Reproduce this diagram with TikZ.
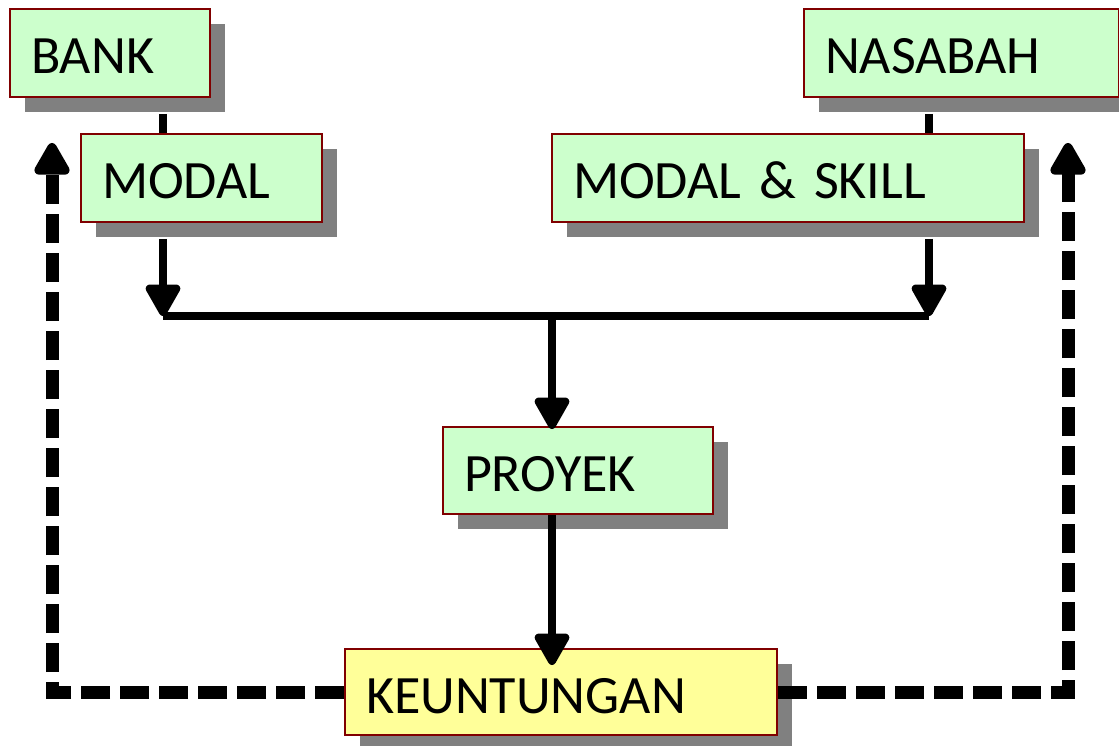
\documentclass[tikz,border=0pt]{standalone}
\usepackage{fontspec}
\setmainfont{Carlito}
\usetikzlibrary{arrows.meta,shadows,calc}
\definecolor{boxgreen}{HTML}{CCFFCC}
\definecolor{boxyellow}{HTML}{FFFF99}
\definecolor{boxborder}{HTML}{800000}
\definecolor{shadowgray}{HTML}{808080}
\begin{document}
\begin{tikzpicture}[x=1pt,y=-1pt,
  box/.style={draw=boxborder, line width=2pt, fill=boxgreen, anchor=north west,
    inner xsep=21pt, inner ysep=0pt, align=left, text height=42pt, text depth=0pt,
    font=\fontsize{54pt}{60pt}\selectfont,
    drop shadow={shadow xshift=15pt, shadow yshift=-15pt, fill=shadowgray, opacity=1, draw=none}},
  ybox/.style={box, fill=boxyellow},
  conn/.style={line width=8pt, black},
  arr/.style={conn, -{Triangle[width=38pt,length=36pt,round]}},
  darr/.style={line width=13pt, black, dash pattern=on 29pt off 10pt,
    -{Triangle[width=39pt,length=37pt,round]}}]
\useasboundingbox (0,0) rectangle (1119,746);
\node[box, text width=158pt, minimum height=88pt] (bank) at (9,8) {BANK};
\node[box, text width=199pt, minimum height=88pt] (modal) at (80,133) {MODAL};
\node[box, text width=273pt, minimum height=88pt] (nasabah) at (803,8) {NASABAH};
\node[box, text width=430pt, minimum height=88pt] (modalskill) at (551,133) {MODAL \& SKILL};
\node[box, text width=228pt, minimum height=87pt] (proyek) at (442,426) {PROYEK};
\node[ybox, text width=390pt, minimum height=86pt] (keuntungan) at (344,648) {KEUNTUNGAN};
\coordinate (jl) at (163,316);
\coordinate (jr) at (929,316);
\coordinate (jc) at (552,316);
\coordinate (ltop) at (52,143);
\coordinate (rtop) at (1068,143);
\draw[conn] ($(bank.south -| jl)+(0,-16pt)$) -- (modal.north -| jl);
\draw[conn] ($(nasabah.south -| jr)+(0,-16pt)$) -- (modalskill.north -| jr);
\draw[arr] ($(modal.south -| jl)+(0,-16pt)$) -- (jl);
\draw[arr] ($(modalskill.south -| jr)+(0,-16pt)$) -- (jr);
\draw[conn] (jl) -- (jr);
\draw[arr] (jc) -- ($(proyek.north -| jc)+(0,-3pt)$);
\draw[arr] (proyek.south -| jc) -- ($(keuntungan.north -| jc)+(0,-17pt)$);
\draw[darr] (keuntungan.west) -| (ltop);
\draw[darr] (keuntungan.east) -| (rtop);
\end{tikzpicture}
\end{document}
